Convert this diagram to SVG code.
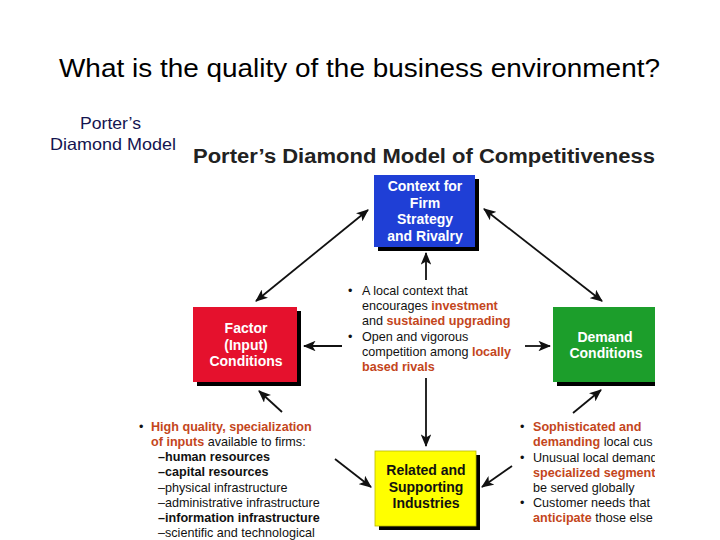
<svg xmlns="http://www.w3.org/2000/svg" width="720" height="540" viewBox="0 0 720 540">
<defs>
<style>
.t{font-family:"Liberation Sans",Arial,sans-serif;}
.box{stroke:none;}
.sh{fill:#000;}
.lbl{font-family:"Liberation Sans",Arial,sans-serif;font-weight:bold;font-size:14px;fill:#fff;text-anchor:middle;}
.blk{fill:#111;}
.body{font-family:"Liberation Sans",Arial,sans-serif;font-size:12.6px;fill:#111;}
.o{fill:#c4461c;font-weight:bold;}
.b{font-weight:bold;}
.con{stroke:#111;stroke-width:1.8;fill:none;}
</style>
<marker id="ah" viewBox="0 0 12 10" refX="11" refY="5" markerWidth="7" markerHeight="6" orient="auto-start-reverse" markerUnits="strokeWidth">
<path d="M0,0 L12,5 L0,10 L3,5 Z" fill="#111"/>
</marker>
<clipPath id="rc"><rect x="0" y="0" width="655" height="540"/></clipPath>
</defs>
<rect width="720" height="540" fill="#fff"/>
<g id="heading">
<text class="t" x="59" y="77" font-size="26" fill="#000" textLength="601" lengthAdjust="spacingAndGlyphs">What is the quality of the business environment?</text>
<text class="t" x="80" y="129" font-size="16.5" fill="#141450" textLength="61" lengthAdjust="spacingAndGlyphs">Porter’s</text>
<text class="t" x="50" y="150" font-size="16.5" fill="#141450" textLength="126" lengthAdjust="spacingAndGlyphs">Diamond Model</text>
<text class="t" x="193" y="163" font-size="19.5" font-weight="bold" fill="#222" textLength="462" lengthAdjust="spacingAndGlyphs">Porter’s Diamond Model of Competitiveness</text>
</g>
<g id="connectors">
<line class="con" x1="368" y1="210" x2="256" y2="301" marker-start="url(#ah)" marker-end="url(#ah)"/>
<line class="con" x1="484" y1="209" x2="602" y2="301" marker-start="url(#ah)" marker-end="url(#ah)"/>
<line class="con" x1="426" y1="280" x2="426" y2="253" marker-end="url(#ah)"/>
<line class="con" x1="342" y1="346" x2="304" y2="346" marker-end="url(#ah)"/>
<line class="con" x1="525" y1="346" x2="550" y2="346" marker-end="url(#ah)"/>
<line class="con" x1="426" y1="378" x2="426" y2="446" marker-end="url(#ah)"/>
<line class="con" x1="282" y1="412" x2="259" y2="391" marker-end="url(#ah)"/>
<line class="con" x1="335" y1="459" x2="371" y2="487" marker-end="url(#ah)"/>
<line class="con" x1="512" y1="466" x2="482" y2="487" marker-end="url(#ah)"/>
<line class="con" x1="573" y1="413" x2="601" y2="390" marker-end="url(#ah)"/>
</g>
<g id="context">
<rect class="sh" x="378" y="179" width="101" height="72"/>
<rect class="box" x="374" y="175" width="101" height="72" fill="#1f3fd6"/>
<text class="lbl" x="425" y="191">Context for</text>
<text class="lbl" x="425" y="208">Firm</text>
<text class="lbl" x="425" y="224">Strategy</text>
<text class="lbl" x="425" y="241">and Rivalry</text>
</g>
<g id="factor">
<rect class="sh" x="197" y="311" width="104" height="75"/>
<rect class="box" x="193" y="307" width="104" height="75" fill="#e5112d"/>
<text class="lbl" x="246" y="333">Factor</text>
<text class="lbl" x="246" y="350">(Input)</text>
<text class="lbl" x="246" y="366">Conditions</text>
</g>
<g id="demand" clip-path="url(#rc)">
<rect class="sh" x="557" y="311" width="102" height="75"/>
<rect class="box" x="553" y="307" width="102" height="75" fill="#1c9e2b"/>
<text class="lbl" x="605" y="342">Demand</text>
<text class="lbl" x="606" y="358">Conditions</text>
</g>
<g id="related">
<rect class="sh" x="379" y="455" width="101" height="75"/>
<rect x="375" y="451" width="101" height="75" fill="#ffff00" stroke="#b8b800" stroke-width="0.8"/>
<text class="lbl blk" x="426" y="475">Related and</text>
<text class="lbl blk" x="426" y="492">Supporting</text>
<text class="lbl blk" x="426" y="508">Industries</text>
</g>
<g id="center-text" class="body">
<text x="348" y="295">•</text>
<text x="362" y="295">A local context that</text>
<text x="362" y="310">encourages <tspan class="o">investment</tspan></text>
<text x="362" y="325">and <tspan class="o">sustained upgrading</tspan></text>
<text x="348" y="341">•</text>
<text x="362" y="341">Open and vigorous</text>
<text x="362" y="356">competition among <tspan class="o">locally</tspan></text>
<text x="362" y="371" class="o">based rivals</text>
</g>
<g id="factor-text" class="body" font-size="12.4">
<text x="139" y="431">•</text>
<text x="151" y="431" class="o">High quality, specialization</text>
<text x="151" y="446"><tspan class="o">of inputs</tspan> available to firms:</text>
<text x="158" y="461" class="b">–human resources</text>
<text x="158" y="476" class="b">–capital resources</text>
<text x="158" y="492">–physical infrastructure</text>
<text x="158" y="507">–administrative infrastructure</text>
<text x="158" y="522" class="b">–information infrastructure</text>
<text x="158" y="537">–scientific and technological</text>
</g>
<g id="demand-text" class="body" clip-path="url(#rc)">
<text x="520" y="431">•</text>
<text x="533" y="431" class="o">Sophisticated and</text>
<text x="533" y="446"><tspan class="o">demanding</tspan> local cus</text>
<text x="520" y="462">•</text>
<text x="533" y="462">Unusual local demand</text>
<text x="533" y="477" class="o">specialized segment</text>
<text x="533" y="492">be served globally</text>
<text x="520" y="507">•</text>
<text x="533" y="507">Customer needs that</text>
<text x="533" y="522"><tspan class="o">anticipate</tspan> those else</text>
</g>
</svg>
